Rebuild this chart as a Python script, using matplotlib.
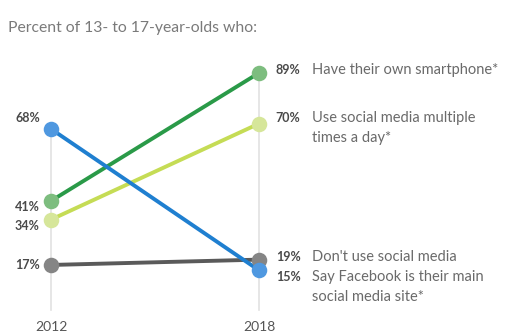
import matplotlib.pyplot as plt

years = [2012, 2018]
smartphone = [41, 89]
social_multi = [34, 70]
facebook_main = [68, 15]
no_social = [17, 19]

desc_smartphone = ["Have their own smartphone*"]
desc_social_multi = ["Use social media multiple", "times a day*"]
desc_no_social = ["Don't use social media"]
desc_facebook = ["Say Facebook is their main", "social media site*"]

plt.rcParams['font.family'] = ['Lato', 'DejaVu Sans']

fig = plt.figure(figsize=(5.07, 3.36), dpi=100)
ax = fig.add_axes([51 / 507, 25.7 / 336, 208 / 507, 266.7 / 336])
ax.set_xlim(2012, 2018)
ax.set_ylim(0, 100)
ax.axis("off")

# (values, line colour, dot colour, left label y, right label y, description)
series = [
    (smartphone, "#2a9a48", "#7dbd7f", 38.7, 90.1, desc_smartphone),
    (social_multi, "#c5dc55", "#d6e69a", 31.6, 72.1, desc_social_multi),
    (no_social, "#5a5a5a", "#858585", 17.0, 20.0, desc_no_social),
    (facebook_main, "#1f7fd0", "#4f98e0", 72.1, 12.5, desc_facebook),
]

# vertical guides from 0 up to the highest value at each year
for i, yr in enumerate(years):
    top = max(s[0][i] for s in series)
    ax.plot([yr, yr], [0, top], color="#e2e2e2", lw=1.2, zorder=1, clip_on=False)

for vals, c, d, ly, ry, desc in series:
    ax.plot(years, vals, color=c, lw=2.8, zorder=2, clip_on=False,
            solid_capstyle="butt")
    ax.scatter(years, vals, s=125, color=d, zorder=3, clip_on=False, linewidths=0)

    ax.annotate(f"{vals[0]}%", (2012, ly), xytext=(-8, 0),
                textcoords="offset points", ha="right", va="center",
                fontsize=9, fontweight="bold", color="#4a4a4a")
    ax.annotate(f"{vals[1]}%", (2018, ry), xytext=(12, 0),
                textcoords="offset points", ha="left", va="center",
                fontsize=9, fontweight="bold", color="#4a4a4a")
    for k, line in enumerate(desc):
        ax.annotate(line, (2018, ry - k * 7.6), xytext=(38.5, 0),
                    textcoords="offset points", ha="left", va="center",
                    fontsize=10.5, color="#6a6a6a")

for yr in years:
    ax.annotate(str(yr), (yr, 0), xytext=(0, -12), textcoords="offset points",
                ha="center", va="center", fontsize=10, color="#555555")

fig.text(8 / 507, 308 / 336, "Percent of 13- to 17-year-olds who:",
         ha="left", va="center", fontsize=11.3, color="#7a7a7a")

fig.savefig("out.png", dpi=100)
